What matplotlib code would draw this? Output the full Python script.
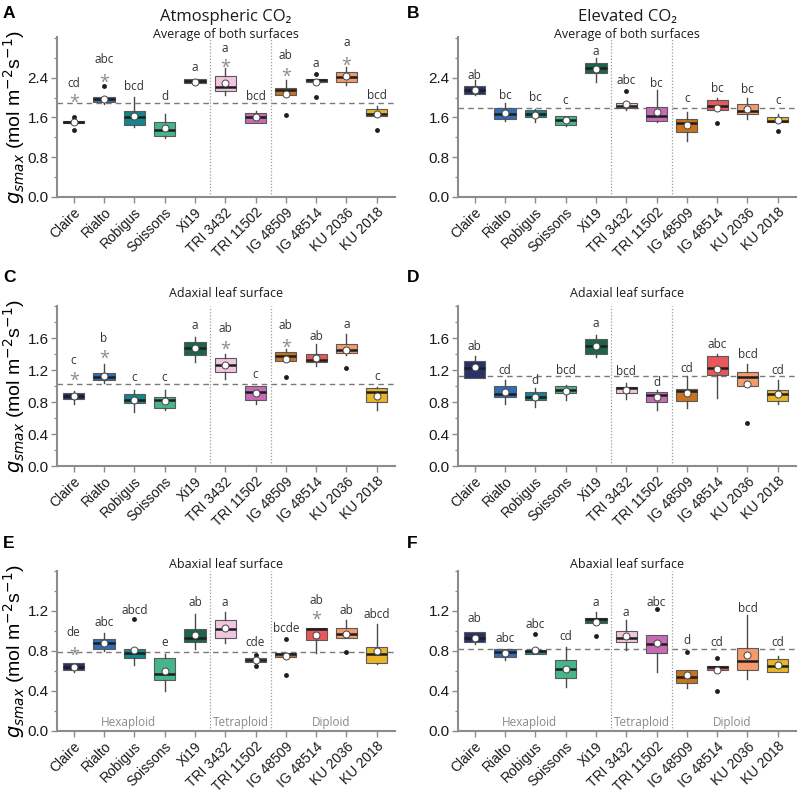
import matplotlib
matplotlib.use("Agg")
import matplotlib.pyplot as plt
from matplotlib.ticker import FixedLocator
import numpy as np
import matplotlib.transforms as mtransforms

genotypes = ["Claire", "Rialto", "Robigus", "Soissons", "Xi19", "TRI 3432",
             "TRI 11502", "IG 48509", "IG 48514", "KU 2036", "KU 2018"]
colors = ["#27326b", "#2f6db5", "#14858a", "#46b58a", "#1a6647", "#f2c6e0",
          "#c86bb5", "#c8741e", "#e8585a", "#f59a6a", "#e8b628"]
groups = ["Hexaploid", "Tetraploid", "Diploid"]
group_x = [1.8, 5.5, 8.5]
group_div = [4.5, 6.5]

# ---- Panel A : atmospheric CO2, average of both surfaces
a_q1 = [1.49, 1.92, 1.44, 1.22, 2.29, 2.13, 1.49, 2.05, 2.31, 2.32, 1.64]
a_med = [1.51, 1.97, 1.60, 1.34, 2.33, 2.22, 1.60, 2.15, 2.35, 2.42, 1.68]
a_q3 = [1.52, 2.02, 1.73, 1.51, 2.37, 2.43, 1.69, 2.20, 2.38, 2.52, 1.77]
a_lo = [1.49, 1.88, 1.41, 1.18, 2.29, 2.05, 1.49, 2.05, 2.31, 2.25, 1.64]
a_hi = [1.52, 2.02, 2.02, 1.68, 2.37, 2.59, 1.73, 2.35, 2.38, 2.62, 1.83]
a_mean = [1.50, 1.98, 1.63, 1.38, 2.32, 2.29, 1.60, 2.08, 2.31, 2.43, 1.67]
a_fliers = [[1.61, 1.35], [2.24], [], [], [], [], [], [1.65], [2.47, 2.02], [], [1.34]]
a_letters = ["cd", "abc", "bcd", "d", "a", "a", "bcd", "ab", "a", "a", "bcd"]
a_letter_y = [2.29, 2.76, 2.22, 2.02, 2.60, 2.99, 2.02, 2.84, 2.69, 3.11, 2.04]
a_star_y = [2.08, 2.47, None, None, None, 2.77, None, 2.59, None, 2.81, None]
a_ref = 1.90

# ---- Panel B : elevated CO2, average of both surfaces
b_q1 = [2.08, 1.57, 1.61, 1.45, 2.50, 1.80, 1.53, 1.30, 1.76, 1.67, 1.50]
b_med = [2.16, 1.67, 1.68, 1.55, 2.59, 1.84, 1.63, 1.48, 1.83, 1.73, 1.53]
b_q3 = [2.23, 1.80, 1.75, 1.64, 2.70, 1.90, 1.81, 1.57, 1.95, 1.87, 1.61]
b_lo = [2.05, 1.52, 1.51, 1.43, 2.32, 1.76, 1.51, 1.13, 1.76, 1.57, 1.50]
b_hi = [2.35, 1.90, 1.78, 1.64, 2.79, 1.90, 2.15, 1.71, 2.00, 2.00, 1.67]
b_mean = [2.16, 1.69, 1.66, 1.55, 2.57, 1.88, 1.71, 1.45, 1.79, 1.77, 1.54]
b_fliers = [[], [], [], [], [], [2.14], [], [], [1.49], [], [1.33]]
b_letters = ["ab", "bc", "bc", "c", "a", "abc", "bc", "c", "bc", "bc", "c"]
b_letter_y = [2.45, 2.04, 2.00, 1.94, 2.92, 2.34, 2.29, 1.98, 2.18, 2.16, 1.94]
b_star_y = [None] * 11
b_ref = 1.80

# ---- Panel C : atmospheric CO2, adaxial surface
c_q1 = [0.84, 1.07, 0.79, 0.72, 1.39, 1.18, 0.82, 1.31, 1.30, 1.41, 0.80]
c_med = [0.88, 1.11, 0.83, 0.82, 1.47, 1.26, 0.92, 1.37, 1.32, 1.45, 0.92]
c_q3 = [0.91, 1.16, 0.90, 0.86, 1.55, 1.35, 1.00, 1.42, 1.40, 1.52, 0.975]
c_lo = [0.78, 1.04, 0.68, 0.70, 1.30, 1.09, 0.78, 1.31, 1.25, 1.39, 0.70]
c_hi = [0.94, 1.27, 0.95, 0.95, 1.61, 1.40, 1.00, 1.46, 1.52, 1.65, 0.99]
c_mean = [0.87, 1.12, 0.83, 0.81, 1.47, 1.26, 0.91, 1.34, 1.35, 1.45, 0.87]
c_fliers = [[], [], [], [], [], [], [], [1.11], [], [1.22], []]
c_letters = ["c", "b", "c", "c", "a", "ab", "c", "ab", "ab", "a", "c"]
c_letter_y = [1.32, 1.59, 1.11, 1.11, 1.76, 1.72, 1.15, 1.76, 1.62, 1.77, 1.12]
c_star_y = [1.17, 1.45, None, None, None, 1.56, None, 1.59, None, None, None]
c_ref = 1.02

# ---- Panel D : elevated CO2, adaxial surface
d_q1 = [1.10, 0.86, 0.82, 0.91, 1.40, 0.91, 0.80, 0.81, 1.14, 0.995, 0.81]
d_med = [1.225, 0.90, 0.86, 0.95, 1.50, 0.97, 0.89, 0.94, 1.23, 1.11, 0.90]
d_q3 = [1.31, 1.00, 0.93, 0.995, 1.59, 0.99, 0.92, 0.96, 1.37, 1.175, 0.95]
d_lo = [1.10, 0.775, 0.74, 0.82, 1.36, 0.84, 0.70, 0.725, 0.85, 0.995, 0.775]
d_hi = [1.37, 1.08, 0.975, 1.01, 1.64, 1.04, 0.95, 1.12, 1.40, 1.27, 1.08]
d_mean = [1.24, 0.93, 0.86, 0.94, 1.50, 0.945, 0.86, 0.91, 1.21, 1.025, 0.90]
d_fliers = [[], [], [], [], [], [], [], [], [], [0.54], []]
d_letters = ["ab", "cd", "d", "bcd", "a", "bcd", "d", "cd", "abc", "bcd", "cd"]
d_letter_y = [1.49, 1.20, 1.07, 1.19, 1.78, 1.18, 1.05, 1.225, 1.52, 1.39, 1.20]
d_star_y = [None] * 11
d_ref = 1.12

# ---- Panel E : atmospheric CO2, abaxial surface
e_q1 = [0.61, 0.82, 0.73, 0.51, 0.89, 0.93, 0.69, 0.74, 0.91, 0.93, 0.68]
e_med = [0.645, 0.88, 0.78, 0.57, 0.93, 1.02, 0.71, 0.77, 1.02, 0.97, 0.77]
e_q3 = [0.68, 0.92, 0.82, 0.73, 1.02, 1.11, 0.73, 0.78, 1.03, 1.03, 0.84]
e_lo = [0.59, 0.80, 0.66, 0.40, 0.82, 0.88, 0.69, 0.74, 0.78, 0.93, 0.67]
e_hi = [0.68, 0.98, 0.82, 0.77, 1.17, 1.19, 0.73, 0.78, 1.03, 1.11, 1.07]
e_mean = [0.64, 0.88, 0.81, 0.60, 0.96, 1.03, 0.71, 0.75, 0.96, 0.97, 0.80]
e_fliers = [[], [], [1.12], [], [], [], [0.76, 0.65], [0.92, 0.56], [], [0.79], []]
e_letters = ["de", "abc", "abcd", "e", "ab", "a", "cde", "bcde", "ab", "ab", "abcd"]
e_letter_y = [0.98, 1.09, 1.20, 0.89, 1.29, 1.29, 0.89, 1.02, 1.31, 1.20, 1.17]
e_star_y = [0.84, None, None, None, None, None, None, None, 1.20, None, None]
e_ref = 0.79

# ---- Panel F : elevated CO2, abaxial surface
f_q1 = [0.89, 0.745, 0.77, 0.53, 1.08, 0.89, 0.78, 0.48, 0.61, 0.61, 0.59]
f_med = [0.93, 0.79, 0.80, 0.625, 1.12, 0.935, 0.87, 0.54, 0.64, 0.70, 0.65]
f_q3 = [0.99, 0.82, 0.81, 0.71, 1.13, 1.00, 0.96, 0.61, 0.65, 0.83, 0.72]
f_lo = [0.87, 0.71, 0.77, 0.44, 1.08, 0.81, 0.59, 0.43, 0.61, 0.52, 0.59]
f_hi = [0.99, 0.82, 0.81, 0.84, 1.19, 1.11, 0.96, 0.61, 0.65, 1.16, 0.75]
f_mean = [0.93, 0.78, 0.81, 0.625, 1.09, 0.95, 0.88, 0.56, 0.61, 0.76, 0.66]
f_fliers = [[], [], [0.97], [], [0.95], [], [1.22], [0.79], [0.73, 0.40], [], []]
f_letters = ["ab", "abc", "abc", "cd", "a", "a", "abc", "d", "cd", "bcd", "cd"]
f_letter_y = [1.12, 0.93, 1.06, 0.94, 1.29, 1.19, 1.29, 0.90, 0.89, 1.23, 0.89]
f_star_y = [None] * 11
f_ref = 0.82

col_titles = ["Atmospheric CO\u2082", "Elevated CO\u2082"]
subtitles = ["Average of both surfaces", "Adaxial leaf surface", "Abaxial leaf surface"]
panel_letters = ["A", "B", "C", "D", "E", "F"]
ylabel = r"$g_{smax}$ (mol m$^{-2}$s$^{-1}$)"

panels = [
    (a_q1, a_med, a_q3, a_lo, a_hi, a_mean, a_fliers, a_letters, a_letter_y, a_star_y, a_ref),
    (b_q1, b_med, b_q3, b_lo, b_hi, b_mean, b_fliers, b_letters, b_letter_y, b_star_y, b_ref),
    (c_q1, c_med, c_q3, c_lo, c_hi, c_mean, c_fliers, c_letters, c_letter_y, c_star_y, c_ref),
    (d_q1, d_med, d_q3, d_lo, d_hi, d_mean, d_fliers, d_letters, d_letter_y, d_star_y, d_ref),
    (e_q1, e_med, e_q3, e_lo, e_hi, e_mean, e_fliers, e_letters, e_letter_y, e_star_y, e_ref),
    (f_q1, f_med, f_q3, f_lo, f_hi, f_mean, f_fliers, f_letters, f_letter_y, f_star_y, f_ref),
]
row_ylim = [3.22, 2.0, 1.6]
row_major = [[0.0, 0.8, 1.6, 2.4], [0.0, 0.4, 0.8, 1.2, 1.6], [0.0, 0.4, 0.8, 1.2]]
row_minor_step = [0.4, 0.2, 0.2]

W, H = 800, 793
fig = plt.figure(figsize=(W / 100, H / 100), dpi=100)

axes_left_px = [57, 458]
axes_width_px = 338
axes_top_px = [37, 306, 571]
axes_h_px = 160
sub_baseline_px = [38, 297, 568]
letter_top_px = [6, 270, 536]

tick_font = ["Liberation Sans", "DejaVu Sans"]
ann_font = ["Open Sans", "DejaVu Sans"]
spine_col = "#8c8c8c"

for i, p in enumerate(panels):
    q1, med, q3, lo, hi, mean, fl, lets, let_y, star_y, ref = p
    r, c = divmod(i, 2)
    left = axes_left_px[c] / W
    bottom = 1 - (axes_top_px[r] + axes_h_px) / H
    ax = fig.add_axes([left, bottom, axes_width_px / W, axes_h_px / H])
    stats = []
    for k in range(len(genotypes)):
        stats.append(dict(med=med[k], q1=q1[k], q3=q3[k], whislo=lo[k], whishi=hi[k],
                          mean=mean[k], fliers=fl[k], label=genotypes[k]))
    bp = ax.bxp(stats, positions=range(len(genotypes)), widths=0.7, patch_artist=True,
                showmeans=True, showcaps=False,
                boxprops=dict(edgecolor="#5a5a5a", linewidth=0.8),
                medianprops=dict(color="#1e1e1e", linewidth=1.8),
                whiskerprops=dict(color="#4a4a4a", linewidth=1.0),
                meanprops=dict(marker="o", markerfacecolor="white", markeredgecolor="#444444",
                               markeredgewidth=0.7, markersize=5),
                flierprops=dict(marker="o", markerfacecolor="#1e1e1e", markeredgecolor="none",
                                markersize=3.5))
    for patch, col in zip(bp["boxes"], colors):
        patch.set_facecolor(col)
    ax.set_xlim(-0.55, 10.6)
    ax.set_ylim(0, row_ylim[r])
    ax.axhline(ref, color="#7a7a7a", linestyle=(0, (4, 3)), linewidth=1.0, zorder=0.5)
    for xd in group_div:
        ax.axvline(xd, color="#9a9a9a", linestyle=(0, (1, 1.5)), linewidth=0.9, zorder=0.5)
    for k in range(len(genotypes)):
        ax.text(k, let_y[k], lets[k], ha="center", va="center", fontsize=8.5,
                color="#333333", family=ann_font)
        if star_y[k] is not None:
            ax.text(k, star_y[k] - 0.055 * row_ylim[r], "*", ha="center", va="center",
                    fontsize=13, color="#8a8a8a", family=ann_font)
    ax.yaxis.set_major_locator(FixedLocator(row_major[r]))
    ax.yaxis.set_minor_locator(FixedLocator(np.arange(0, row_ylim[r] + 1e-6, row_minor_step[r])))
    ax.set_yticklabels([f"{v:.1f}" for v in row_major[r]])
    ax.set_xticks(range(len(genotypes)))
    ax.set_xticklabels(genotypes, rotation=45, ha="right", rotation_mode="anchor",
                       fontsize=10, family=tick_font)
    for lab in ax.get_yticklabels():
        lab.set_family(tick_font)
        lab.set_fontsize(11)
    for s in ["top", "right"]:
        ax.spines[s].set_visible(False)
    for s in ["left", "bottom"]:
        ax.spines[s].set_color(spine_col)
        ax.spines[s].set_linewidth(1.5)
    ax.tick_params(axis="both", which="major", color=spine_col, length=4, width=1.0,
                   labelcolor="#1a1a1a", pad=2)
    ax.tick_params(axis="y", which="minor", color=spine_col, length=2.5, width=0.9)
    if c == 0:
        ax.set_ylabel(ylabel, fontsize=14, family=tick_font)
        ax.yaxis.set_label_coords(-0.09, 0.5)
    if r == 2:
        blend = mtransforms.blended_transform_factory(ax.transData, ax.transAxes)
        for g, gx in zip(groups, group_x):
            ax.text(gx, 0.012, g, transform=blend, ha="center", va="bottom",
                    fontsize=8.5, color="#8a8a8a", family=ann_font)
    cx = (axes_left_px[c] + axes_width_px / 2) / W
    fig.text(cx, 1 - sub_baseline_px[r] / H, subtitles[r], ha="center", va="baseline",
             fontsize=9, color="#1a1a1a", family=ann_font)
    fig.text((3 + c * 404) / W, 1 - letter_top_px[r] / H, panel_letters[i], ha="left",
             va="top", fontsize=12.5, fontweight="bold", family=tick_font)

for c in range(2):
    cx = (axes_left_px[c] + axes_width_px / 2) / W
    fig.text(cx, 1 - 21 / H, col_titles[c], ha="center", va="baseline", fontsize=12,
             color="#1a1a1a", family=ann_font)

fig.savefig("out.png", dpi=100)
